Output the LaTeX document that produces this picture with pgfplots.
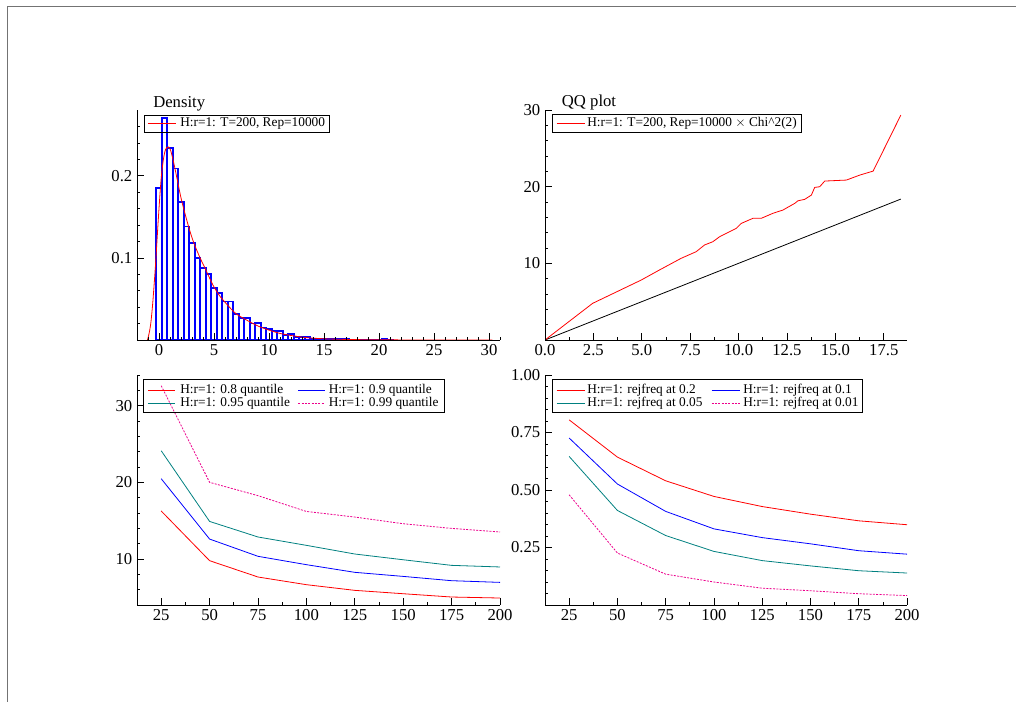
\documentclass[border=0pt]{standalone}
\usepackage{fontspec}
\setmainfont{Liberation Serif}
\usepackage{pgfplots}
\pgfplotsset{compat=1.18}
\definecolor{oxteal}{rgb}{0,0.5,0.5}

% 1 px of the reference = 0.75pt
\pgfplotsset{
  oxstyle/.style={
    scale only axis, anchor=south west,
    axis lines=left, axis line style={-, black, line width=0.6pt},
    tick align=inside, tick style={black, line width=0.5pt},
    major tick length=5pt, minor tick length=2.5pt,
    enlargelimits=false, axis on top,
    ticklabel style={font=\fontsize{12.5}{14}\selectfont},
    /pgf/number format/assume math mode=true,
    every axis plot/.append style={line width=0.6pt},
  }
}
\tikzset{legtext/.style={anchor=west, inner sep=0pt, font=\fontsize{10}{11}\selectfont},
  legbox/.style={draw=black, line width=0.5pt}}

\begin{document}
\begin{tikzpicture}
\useasboundingbox (0,0) rectangle (762pt,526.5pt);

% ---------- Density ----------
\begin{axis}[oxstyle,
  at={(102.75pt,271.5pt)}, width=272.25pt, height=172.5pt,
  xmin=-2, xmax=31, ymin=0, ymax=0.28,
  xtick={0,5,...,30}, minor xtick={-1,0,...,31},
  ytick={0.1,0.2}, minor ytick={0.02,0.04,0.06,0.08,0.12,0.14,0.16,0.18,0.22,0.24,0.26},
  yticklabel style={/pgf/number format/.cd, fixed, precision=1},
]
% histogram, bins of width 0.5 (left edges)
\addplot[ybar interval, draw=blue, line width=1.2pt, fill=none]
  coordinates {
  (-0.25,0.185) (0.25,0.270) (0.75,0.234) (1.25,0.209) (1.75,0.168) (2.25,0.138)
  (2.75,0.118) (3.25,0.100) (3.75,0.088) (4.25,0.080) (4.75,0.063) (5.25,0.057)
  (5.75,0.047) (6.25,0.047) (6.75,0.032) (7.25,0.027) (7.75,0.027) (8.25,0.020)
  (8.75,0.021) (9.25,0.015) (9.75,0.0135) (10.25,0.011) (10.75,0.011) (11.25,0.006)
  (11.75,0.007) (12.25,0.004) (12.75,0.004) (13.25,0.004) (13.75,0.002) (14.25,0.002)
  (14.75,0.0015) (15.25,0.002) (15.75,0.0015) (16.25,0.001) (16.75,0.001) (17.25,0.0008)
  (17.75,0.0005) (18.25,0.0005) (18.75,0.0003) (19.25,0) (19.75,0) (20.25,0.0015)
  (20.75,0.0003) (21.25,0)};
\addplot[red, smooth] coordinates {
  (-1.05,0.0) (-0.9,0.008) (-0.75,0.02) (-0.6,0.04) (-0.45,0.066) (-0.3,0.095)
  (-0.15,0.128) (0,0.16) (0.2,0.197) (0.4,0.22) (0.6,0.232) (0.85,0.235)
  (1.05,0.231) (1.3,0.218) (1.6,0.199) (2.0,0.173) (2.4,0.152) (2.8,0.133)
  (3.2,0.117) (3.7,0.101) (4.2,0.087) (4.9,0.067) (5.5,0.054) (6.2,0.043)
  (7.0,0.032) (8.0,0.024) (9.0,0.017) (10,0.012) (11,0.008) (12,0.0055)
  (13,0.0035) (14,0.0022) (15.5,0.0012) (17,0.0007) (19,0.0003) (22,0.0001)
  (26,0.0) (30.3,0.0)};
\end{axis}

% ---------- QQ plot ----------
\begin{axis}[oxstyle,
  at={(408.75pt,271.5pt)}, width=271.5pt, height=172.5pt,
  xmin=0, xmax=18.7, ymin=0, ymax=30,
  xtick={0,2.5,...,17.5}, minor x tick num=1,
  xticklabel style={/pgf/number format/.cd, fixed, fixed zerofill, precision=1},
  ytick={10,20,30}, minor ytick={2,4,...,30},
]
\addplot[black] coordinates {(0,0) (18.38,18.38)};
\addplot[red] coordinates {
  (0,0) (2.46,4.78) (4.97,7.82) (5.91,9.13) (7.03,10.65) (7.81,11.52)
  (8.24,12.39) (8.67,12.82) (9.02,13.47) (9.88,14.56) (10.14,15.21)
  (10.74,15.87) (11.17,15.87) (11.77,16.52) (12.29,16.95) (12.90,17.82)
  (13.07,18.16) (13.41,18.34) (13.76,18.9) (13.93,19.9) (14.19,19.99)
  (14.45,20.73) (15.57,20.86) (16.26,21.51) (16.95,22.03) (18.38,29.33)};
\end{axis}

% ---------- quantiles ----------
\begin{axis}[oxstyle,
  at={(102.75pt,72.75pt)}, width=272.25pt, height=172.5pt,
  xmin=12.5, xmax=200, ymin=4, ymax=34,
  xtick={25,50,...,200}, minor x tick num=1,
  ytick={10,20,30}, minor ytick={4,6,...,34},
]
\addplot[red] coordinates {
  (25,16.26) (50,9.78) (75,7.65) (100,6.65) (125,5.91) (150,5.47) (175,5.04) (200,4.91)};
\addplot[blue] coordinates {
  (25,20.47) (50,12.6) (75,10.35) (100,9.26) (125,8.26) (150,7.73) (175,7.17) (200,6.95)};
\addplot[oxteal] coordinates {
  (25,24.12) (50,14.9) (75,12.87) (100,11.78) (125,10.65) (150,9.9) (175,9.17) (200,8.96)};
\addplot[magenta, dash pattern=on 1.5pt off 1pt] coordinates {
  (25,32.6) (50,20.0) (75,18.26) (100,16.2) (125,15.47) (150,14.6) (175,13.99) (200,13.52)};
\end{axis}

% ---------- rejection frequencies ----------
\begin{axis}[oxstyle,
  at={(408.75pt,72.75pt)}, width=271.5pt, height=172.5pt,
  xmin=12.5, xmax=200, ymin=0, ymax=1,
  xtick={25,50,...,200}, minor x tick num=1,
  ytick={0.25,0.5,0.75,1}, minor ytick={0.05,0.1,...,1},
  yticklabel style={/pgf/number format/.cd, fixed, fixed zerofill, precision=2},
]
\addplot[red] coordinates {
  (25,0.805) (50,0.643) (75,0.540) (100,0.472) (125,0.428) (150,0.395) (175,0.366) (200,0.349)};
\addplot[blue] coordinates {
  (25,0.726) (50,0.526) (75,0.407) (100,0.331) (125,0.293) (150,0.266) (175,0.236) (200,0.221)};
\addplot[oxteal] coordinates {
  (25,0.646) (50,0.411) (75,0.302) (100,0.233) (125,0.193) (150,0.170) (175,0.149) (200,0.139)};
\addplot[magenta, dash pattern=on 1.5pt off 1pt] coordinates {
  (25,0.479) (50,0.226) (75,0.134) (100,0.100) (125,0.073) (150,0.062) (175,0.049) (200,0.041)};
\end{axis}

% ---------- legends (transparent boxes, as in the reference) ----------
% Density
\draw[red, line width=0.6pt] (111pt,433.9pt) -- (132pt,433.9pt);
\node[legtext] (d1) at (135pt,433.9pt) {H:r=1: T=200, Rep=10000};
\path (d1.east) ++(3pt,0) coordinate (d1r);
\draw[legbox] (108pt,440.25pt) rectangle (d1r |- 0pt,427.5pt);
% QQ plot
\draw[red, line width=0.6pt] (417.5pt,434.25pt) -- (438.75pt,434.25pt);
\node[legtext] (q1) at (440.25pt,434.25pt) {H:r=1: T=200, Rep=10000 $\times$ Chi\^{}2(2)};
\path (q1.east) ++(3pt,0) coordinate (q1r);
\draw[legbox] (414pt,441pt) rectangle (q1r |- 0pt,427.5pt);
% quantiles
\draw[red, line width=0.6pt] (111.25pt,234pt) -- (131.25pt,234pt);
\node[legtext] at (135pt,234pt) {H:r=1: 0.8 quantile};
\draw[blue, line width=0.6pt] (223.75pt,234pt) -- (243.75pt,234pt);
\node[legtext] at (246.4pt,234pt) {H:r=1: 0.9 quantile};
\draw[oxteal, line width=0.6pt] (111.25pt,224.25pt) -- (131.25pt,224.25pt);
\node[legtext] at (135pt,224.25pt) {H:r=1: 0.95 quantile};
\draw[magenta, line width=0.6pt, dash pattern=on 1.5pt off 1pt] (223.75pt,224.25pt) -- (243.75pt,224.25pt);
\node[legtext] (p4) at (246.4pt,224.25pt) {H:r=1: 0.99 quantile};
\path (p4.east) ++(4pt,0) coordinate (p4r);
\draw[legbox] (107.25pt,242.25pt) rectangle (p4r |- 0pt,217.5pt);
% rejection frequencies
\draw[red, line width=0.6pt] (417.5pt,234pt) -- (438.75pt,234pt);
\node[legtext] at (440.25pt,234pt) {H:r=1: rejfreq at 0.2};
\draw[blue, line width=0.6pt] (533.75pt,234pt) -- (555pt,234pt);
\node[legtext] at (557.25pt,234pt) {H:r=1: rejfreq at 0.1};
\draw[oxteal, line width=0.6pt] (417.5pt,224.25pt) -- (438.75pt,224.25pt);
\node[legtext] at (440.25pt,224.25pt) {H:r=1: rejfreq at 0.05};
\draw[magenta, line width=0.6pt, dash pattern=on 1.5pt off 1pt] (533.75pt,224.25pt) -- (555pt,224.25pt);
\node[legtext] (r4) at (557.25pt,224.25pt) {H:r=1: rejfreq at 0.01};
\path (r4.east) ++(3pt,0) coordinate (r4r);
\draw[legbox] (414pt,242.25pt) rectangle (r4r |- 0pt,217.5pt);

% titles and frame
\node[anchor=base west, font=\fontsize{12.5}{14}\selectfont, inner sep=0pt] at (114.75pt,446pt) {Density};
\node[anchor=base west, font=\fontsize{12.5}{14}\selectfont, inner sep=0pt] at (421.25pt,446.5pt) {QQ plot};
\draw[black!55, line width=0.75pt] (5.25pt,0pt) -- (5.25pt,521.25pt) -- (762pt,521.25pt);
\end{tikzpicture}
\end{document}
